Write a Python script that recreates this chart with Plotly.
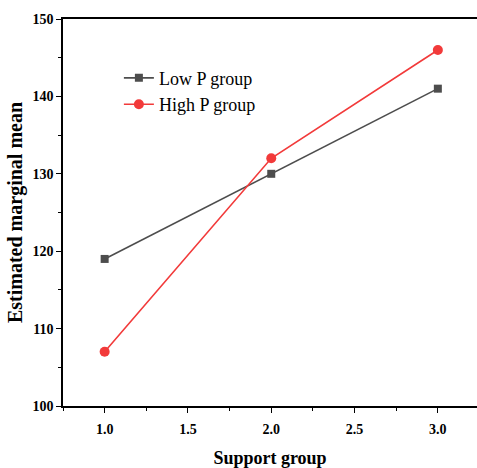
import plotly.graph_objects as go

support = [1.0, 2.0, 3.0]
low_p = [119, 130, 141]
high_p = [107, 132, 146]

font = "Liberation Serif, Times New Roman, serif"

fig = go.Figure()
fig.add_trace(go.Scatter(x=support, y=low_p, mode="lines+markers", name="Low P group",
                         line=dict(color="#4d4d4d", width=1.6),
                         marker=dict(symbol="square", size=8, color="#4d4d4d")))
fig.add_trace(go.Scatter(x=support, y=high_p, mode="lines+markers", name="High P group",
                         line=dict(color="#f23a3a", width=1.6),
                         marker=dict(symbol="circle", size=10, color="#f23a3a")))

fig.update_layout(
    width=477, height=468,
    margin=dict(l=63, r=0, t=19, b=62),
    plot_bgcolor="white", paper_bgcolor="white",
    font=dict(family=font, color="black"),
    showlegend=True,
    legend=dict(x=0.135, y=0.895, xanchor="left", yanchor="top",
                bgcolor="rgba(0,0,0,0)", font=dict(size=18, family=font),
                tracegroupgap=0, itemwidth=30),
    xaxis=dict(range=[0.75, 3.235], tickvals=[1.0, 1.5, 2.0, 2.5, 3.0],
               ticktext=["1.0", "1.5", "2.0", "2.5", "3.0"],
               showgrid=False, zeroline=False, showline=True, linecolor="black", linewidth=1.5,
               mirror=True, ticks="outside", ticklen=5, tickwidth=1.2, tickcolor="black",
               ticklabelstandoff=4,
               minor=dict(ticks="outside", dtick=0.25, tick0=0.75, ticklen=3, tickwidth=1.2, tickcolor="black"),
               tickfont=dict(size=14, family=font, weight="bold"),
               title=dict(text="<b>Support group</b>", font=dict(size=18, family=font), standoff=16)),
    yaxis=dict(range=[100, 150], tickvals=[100, 110, 120, 130, 140, 150],
               showgrid=False, zeroline=False, showline=True, linecolor="black", linewidth=1.5,
               ticks="outside", ticklen=5, tickwidth=1.2, tickcolor="black",
               minor=dict(ticks="outside", dtick=5, ticklen=3, tickwidth=1.2, tickcolor="black"),
               tickfont=dict(size=14, family=font, weight="bold"),
               title=dict(text="<b>Estimated marginal mean</b>", font=dict(size=20, family=font), standoff=4)),
)

fig.write_html("out.html", config={"displayModeBar": False},
               post_script="document.body.style.margin='0';document.body.style.overflow='hidden';")
